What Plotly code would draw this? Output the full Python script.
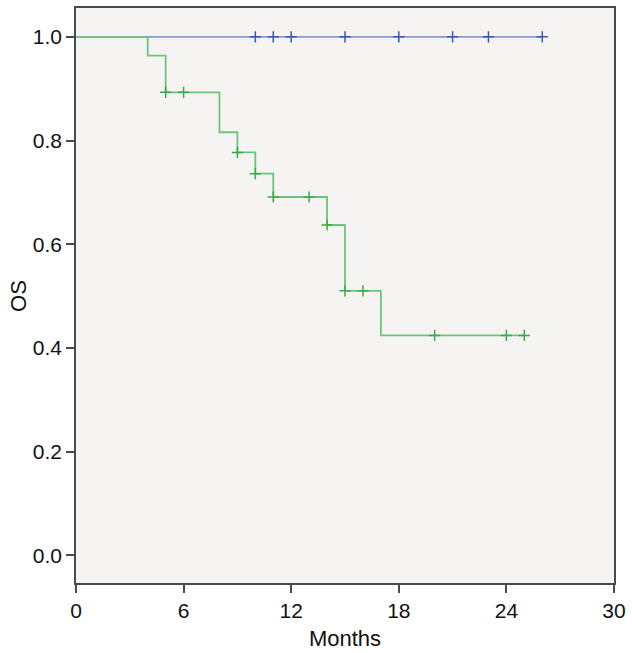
import plotly.graph_objects as go

# Data
blue_times = [0, 26]
blue_surv = [1.0, 1.0]
blue_censor = [10, 11, 12, 15, 18, 21, 23, 26]

green_times = [0, 4, 5, 8, 9, 10, 11, 14, 15, 17, 25]
green_surv = [1.0, 0.964, 0.893, 0.816, 0.777, 0.736, 0.691, 0.637, 0.510, 0.424, 0.424]
green_censor = [5, 6, 9, 10, 11, 13, 14, 15, 16, 20, 24, 25]

x_ticks = [0, 6, 12, 18, 24, 30]
y_ticks = [0.0, 0.2, 0.4, 0.6, 0.8, 1.0]


def surv_at(times, surv, t):
    v = surv[0]
    for ti, si in zip(times, surv):
        if ti <= t:
            v = si
    return v


BLUE_LINE = "#8898d8"
BLUE_MARK = "#3d56b3"
GREEN_LINE = "#6cc47a"
GREEN_MARK = "#3aa94c"

fig = go.Figure()
fig.add_trace(go.Scatter(x=blue_times, y=blue_surv, mode="lines", line_shape="hv",
                         line=dict(color=BLUE_LINE, width=1.8), hoverinfo="skip", showlegend=False))
fig.add_trace(go.Scatter(x=blue_censor, y=[surv_at(blue_times, blue_surv, t) for t in blue_censor],
                         mode="markers", marker=dict(symbol="cross-thin", size=8,
                                                     line=dict(color=BLUE_MARK, width=1.5)),
                         showlegend=False))
fig.add_trace(go.Scatter(x=green_times, y=green_surv, mode="lines", line_shape="hv",
                         line=dict(color=GREEN_LINE, width=1.8), hoverinfo="skip", showlegend=False))
fig.add_trace(go.Scatter(x=green_censor, y=[surv_at(green_times, green_surv, t) for t in green_censor],
                         mode="markers", marker=dict(symbol="cross-thin", size=8,
                                                     line=dict(color=GREEN_MARK, width=1.5)),
                         showlegend=False))

FONT = "Liberation Sans, Arial"
axis_common = dict(showgrid=False, zeroline=False, showline=True, linecolor="#4a4a4a", linewidth=1.5,
                   mirror=True, ticks="outside", ticklen=8, tickcolor="#4a4a4a", tickwidth=1.5,
                   tickfont=dict(family=FONT, size=21, color="#111111"))

fig.update_xaxes(range=[0, 30], tickvals=x_ticks, ticktext=[str(v) for v in x_ticks],
                 title=dict(text="Months", font=dict(family=FONT, size=22, color="#111111"),
                            standoff=10),
                 **axis_common)
fig.update_yaxes(range=[-0.0537, 1.0557], tickvals=y_ticks, ticktext=[f"{v:.1f}" for v in y_ticks],
                 **axis_common)

fig.add_annotation(text="OS", xref="paper", yref="paper", x=-0.107, y=0.5,
                   xanchor="center", yanchor="middle", textangle=-90, showarrow=False,
                   font=dict(family=FONT, size=22, color="#111111"))

fig.update_layout(width=632, height=653, margin=dict(l=76, r=16, t=6, b=69),
                  paper_bgcolor="white", plot_bgcolor="#f5f4f2")

fig.write_html("out.html")
